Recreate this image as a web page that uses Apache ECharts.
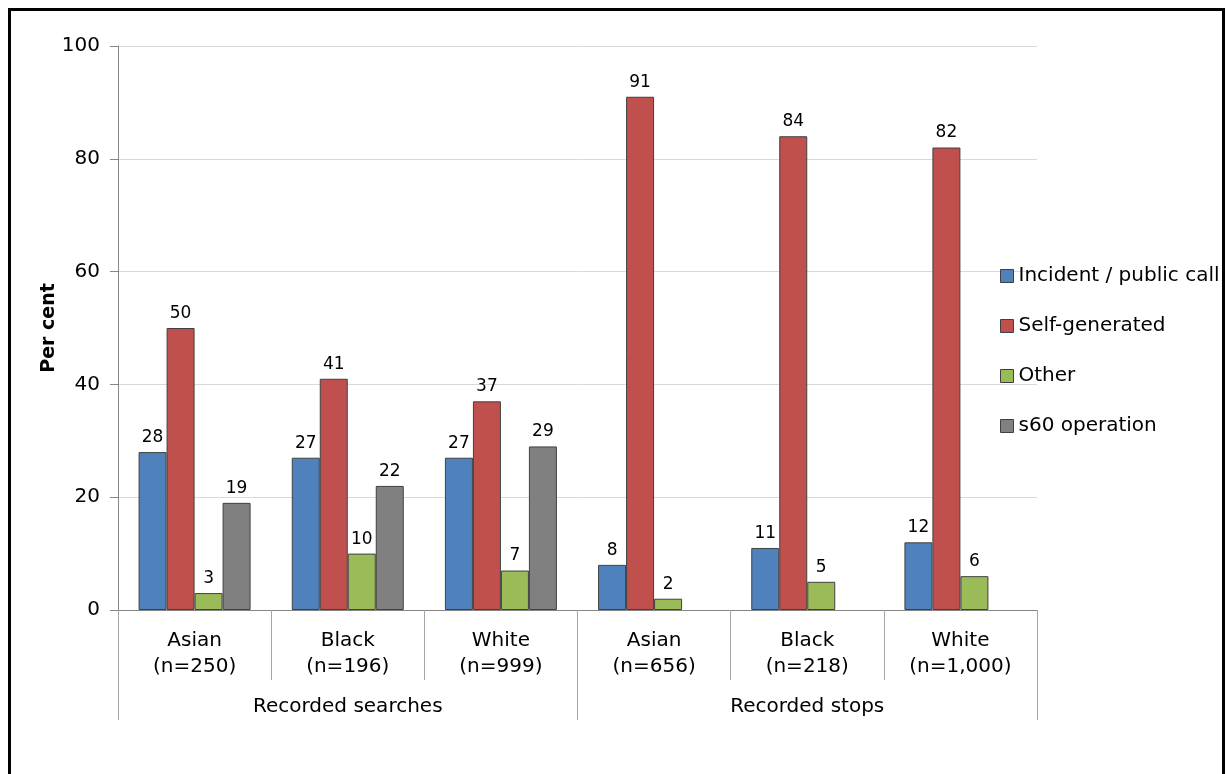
<!DOCTYPE html>
<html>
<head>
<meta charset="utf-8">
<script src="https://cdn.jsdelivr.net/npm/echarts@6/dist/echarts.min.js"></script>
<style>
  html, body { margin: 0; padding: 0; background: #fff; }
  #chart { width: 1227px; height: 774px; }
</style>
</head>
<body>
<div id="chart"></div>
<script>
// Reason for searches and stops, by ethnicity (per cent)
const groups = ['Asian\n(n=250)', 'Black\n(n=196)', 'White\n(n=999)',
                'Asian\n(n=656)', 'Black\n(n=218)', 'White\n(n=1,000)'];
const parentGroups = ['Recorded searches', 'Recorded stops'];
const seriesNames = ['Incident / public call', 'Self-generated', 'Other', 's60 operation'];

const incidentCall = [28, 27, 27, 8, 11, 12];
const selfGenerated = [50, 41, 37, 91, 84, 82];
const otherReason = [3, 10, 7, 2, 5, 6];
const s60Operation = [19, 22, 29, null, null, null];

const yTicks = { min: 0, max: 100, interval: 20 };

const colours = ['#4F81BD', '#C0504D', '#9BBB59', '#808080'];
const font = "Verdana, 'DejaVu Sans', sans-serif";

const chart = echarts.init(document.getElementById('chart'), null, { renderer: 'canvas' });

function barSeries(name, values, colour) {
  return {
    name: name,
    type: 'bar',
    xAxisIndex: 0,
    data: values,
    barWidth: 28,
    barGap: '0%',
    itemStyle: { color: colour, borderColor: '#404040', borderWidth: 1 },
    label: {
      show: true,
      position: 'top',
      distance: 6,
      fontFamily: font,
      fontSize: 17,
      color: '#000',
      formatter: p => (p.value == null ? '' : String(p.value))
    },
    emphasis: { disabled: true }
  };
}

chart.setOption({
  animation: false,
  backgroundColor: '#fff',
  textStyle: { fontFamily: font },
  grid: { left: 118, right: 190, top: 46, bottom: 164, containLabel: false },
  legend: {
    orient: 'vertical',
    left: 1000,
    top: 266,
    padding: 0,
    itemWidth: 13,
    itemHeight: 13,
    itemGap: 30,
    icon: 'rect',
    selectedMode: false,
    textStyle: { fontFamily: font, fontSize: 20, color: '#000', lineHeight: 20 },
    data: seriesNames.map((n, i) => ({
      name: n,
      itemStyle: { color: colours[i], borderColor: '#404040', borderWidth: 1 }
    }))
  },
  xAxis: [
    {
      type: 'category',
      data: groups,
      position: 'bottom',
      axisLine: { show: true, lineStyle: { color: '#868686', width: 1 } },
      axisTick: { show: true, length: 70, lineStyle: { color: '#a6a6a6', width: 1 } },
      axisLabel: {
        margin: 18,
        fontFamily: font,
        fontSize: 20,
        lineHeight: 26,
        color: '#000',
        interval: 0
      },
      splitLine: { show: false }
    },
    {
      type: 'category',
      data: parentGroups,
      position: 'bottom',
      axisLine: { show: false },
      axisTick: { show: true, length: 110, lineStyle: { color: '#a6a6a6', width: 1 } },
      axisLabel: {
        margin: 87,
        fontFamily: font,
        fontSize: 20,
        color: '#000',
        interval: 0
      },
      splitLine: { show: false }
    }
  ],
  yAxis: {
    type: 'value',
    min: yTicks.min,
    max: yTicks.max,
    interval: yTicks.interval,
    name: 'Per cent',
    nameLocation: 'middle',
    nameRotate: 90,
    nameGap: 59,
    nameMoveOverlap: false,
    nameTextStyle: { fontFamily: font, fontSize: 19, fontWeight: 'bold', color: '#000' },
    axisLine: { show: true, lineStyle: { color: '#868686', width: 1 } },
    axisTick: { show: true, length: 8, lineStyle: { color: '#868686' } },
    axisLabel: { margin: 18, fontFamily: font, fontSize: 20, color: '#000' },
    splitLine: { show: true, lineStyle: { color: '#d9d9d9', width: 1 } }
  },
  series: [
    barSeries(seriesNames[0], incidentCall, colours[0]),
    barSeries(seriesNames[1], selfGenerated, colours[1]),
    barSeries(seriesNames[2], otherReason, colours[2]),
    barSeries(seriesNames[3], s60Operation, colours[3])
  ],
  graphic: [
    {
      type: 'rect',
      silent: true,
      z: 100,
      shape: { x: 9.5, y: 9.5, width: 1214, height: 820 },
      style: { fill: 'none', stroke: '#000', lineWidth: 3 }
    }
  ]
});
</script>
</body>
</html>
